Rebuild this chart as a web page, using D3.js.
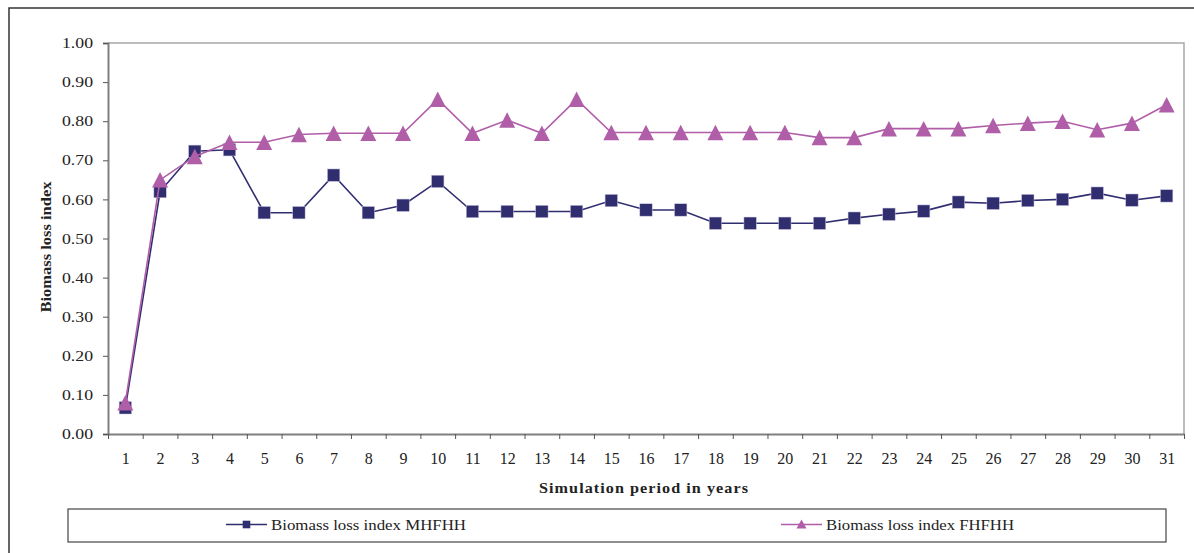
<!DOCTYPE html>
<html>
<head>
<meta charset="utf-8">
<script src="https://cdn.jsdelivr.net/npm/d3@7/dist/d3.min.js"></script>
<style>
  html, body { margin: 0; padding: 0; background: #fff; }
  svg { display: block; }
  text { font-family: "Liberation Serif", "Times New Roman", serif; fill: #222; }
</style>
</head>
<body>
<svg id="chart" width="1194" height="553"></svg>
<script>
// ---- data ----
const years = [1,2,3,4,5,6,7,8,9,10,11,12,13,14,15,16,17,18,19,20,21,22,23,24,25,26,27,28,29,30,31];
const mhfhh = [0.067,0.620,0.723,0.727,0.566,0.566,0.662,0.566,0.585,0.646,0.569,0.569,0.569,0.569,0.597,0.573,0.573,0.539,0.539,0.539,0.539,0.552,0.562,0.570,0.593,0.590,0.597,0.600,0.616,0.598,0.609];
const fhfhh = [0.080,0.650,0.710,0.746,0.746,0.766,0.769,0.769,0.769,0.856,0.769,0.803,0.769,0.856,0.771,0.771,0.771,0.771,0.771,0.771,0.758,0.758,0.781,0.781,0.781,0.789,0.795,0.800,0.778,0.795,0.842];
const yTicks = [0,0.1,0.2,0.3,0.4,0.5,0.6,0.7,0.8,0.9,1.0];
const seriesNames = ["Biomass loss index MHFHH", "Biomass loss index FHFHH"];
const xTitle = "Simulation period in years";
const yTitle = "Biomass loss index";

// ---- layout ----
const L = 108, R = 1184, T = 43, B = 434;
const navy = "#312e70", pink = "#b15ea9";

const svg = d3.select("#chart");

// outer border
svg.append("rect").attr("x", 9).attr("y", 8).attr("width", 1200).attr("height", 560)
  .attr("fill", "none").attr("stroke", "#333").attr("stroke-width", 1.5);

const x = d3.scaleLinear().domain([0.5, years.length + 0.5]).range([L, R]);
const y = d3.scaleLinear().domain([0, 1]).range([B, T]);

// plot frame (top & right)
svg.append("path")
  .attr("d", `M${L},${T}H${R}V${B}`)
  .attr("fill", "none").attr("stroke", "#a8a8a8").attr("stroke-width", 1.5);

// y axis
const gy = svg.append("g").attr("transform", `translate(${L},0)`)
  .call(d3.axisLeft(y).tickValues(yTicks).tickFormat(d3.format(".2f")).tickSize(5).tickPadding(10));
gy.select(".domain").attr("stroke", "#808080").attr("stroke-width", 2);
gy.selectAll(".tick line").attr("stroke", "#555");
gy.selectAll(".tick text").attr("font-size", 14.5).attr("fill", "#222")
  .attr("textLength", 31).attr("lengthAdjust", "spacingAndGlyphs")
  .attr("font-family", "Liberation Serif");

// x axis: boundary ticks
const xb = d3.range(0, years.length + 1).map(i => i + 0.5);
const gx = svg.append("g").attr("transform", `translate(0,${B})`)
  .call(d3.axisBottom(x).tickValues(xb).tickFormat("").tickSize(5).tickSizeOuter(0));
gx.select(".domain").attr("stroke", "#808080").attr("stroke-width", 2);
gx.selectAll(".tick line").attr("stroke", "#555");

// x axis: labels
const gxl = svg.append("g").attr("transform", `translate(0,${B})`)
  .call(d3.axisBottom(x).tickValues(years).tickFormat(d3.format("d")).tickSize(0).tickPadding(19));
gxl.select(".domain").remove();
gxl.selectAll(".tick text").attr("font-size", 16).attr("fill", "#222").attr("font-family", "Liberation Serif");

// lines
const line = d3.line().x((d, i) => x(years[i])).y(d => y(d));
svg.append("path").datum(mhfhh).attr("d", line)
  .attr("fill", "none").attr("stroke", navy).attr("stroke-width", 1.6);
svg.selectAll(".sq").data(mhfhh).join("rect").attr("class", "sq")
  .attr("x", (d, i) => x(years[i]) - 6.2).attr("y", d => y(d) - 6.2)
  .attr("width", 12.4).attr("height", 12.4).attr("fill", navy)
  .attr("stroke", "#c9c6e0").attr("stroke-width", 0.5);

svg.append("path").datum(fhfhh).attr("d", line)
  .attr("fill", "none").attr("stroke", pink).attr("stroke-width", 1.6);
const tri = (cx, cy, w, h) => `M${cx},${cy - h/2}L${cx + w/2},${cy + h/2}L${cx - w/2},${cy + h/2}Z`;
svg.selectAll(".tri").data(fhfhh).join("path").attr("class", "tri")
  .attr("d", (d, i) => tri(x(years[i]), y(d), 16, 15.5))
  .attr("fill", pink);

// axis titles
svg.append("text").attr("x", 644).attr("y", 493).attr("text-anchor", "middle")
  .attr("font-size", 15.5).attr("font-weight", "bold").attr("letter-spacing", 1)
  .attr("textLength", 210).attr("lengthAdjust", "spacingAndGlyphs").text(xTitle);
svg.append("text").attr("transform", "translate(51,247) rotate(-90)").attr("text-anchor", "middle")
  .attr("font-size", 14.5).attr("font-weight", "bold")
  .attr("textLength", 131).attr("lengthAdjust", "spacingAndGlyphs").text(yTitle);

// legend
const lg = svg.append("g");
lg.append("rect").attr("x", 68).attr("y", 509).attr("width", 1098).attr("height", 33)
  .attr("fill", "#fff").attr("stroke", "#444").attr("stroke-width", 1.2);
const legendItems = [
  { name: seriesNames[0], color: navy, x1: 226, x2: 267, tx: 271, tw: 195, shape: "sq" },
  { name: seriesNames[1], color: pink, x1: 781, x2: 822, tx: 826, tw: 188, shape: "tri" }
];
const ly = 524.5;
legendItems.forEach(it => {
  lg.append("line").attr("x1", it.x1).attr("x2", it.x2).attr("y1", ly).attr("y2", ly)
    .attr("stroke", it.color).attr("stroke-width", 1.6);
  const cx = (it.x1 + it.x2) / 2;
  if (it.shape === "sq") {
    lg.append("rect").attr("x", cx - 3.8).attr("y", ly - 3.8).attr("width", 7.6).attr("height", 7.6).attr("fill", it.color);
  } else {
    lg.append("path").attr("d", tri(cx, ly - 0.5, 10, 9)).attr("fill", it.color);
  }
  lg.append("text").attr("x", it.tx).attr("y", ly + 5.5).attr("font-size", 15.5)
    .attr("textLength", it.tw).attr("lengthAdjust", "spacingAndGlyphs").text(it.name);
});
</script>
</body>
</html>
